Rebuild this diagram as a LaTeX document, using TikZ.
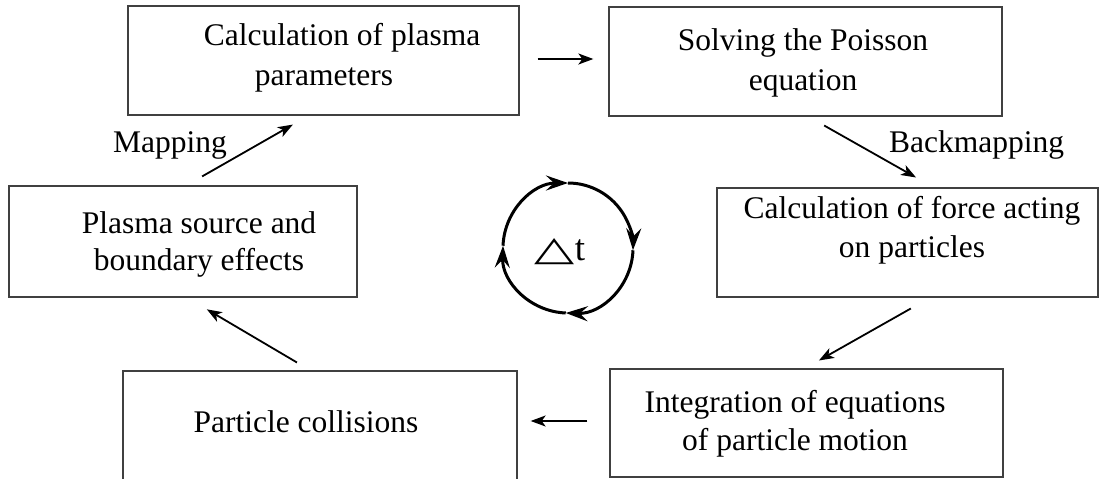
\documentclass[tikz,border=0pt]{standalone}
\usepackage{fontspec}
\setmainfont{Liberation Serif}
\newfontfamily\symfont{DejaVu Sans}
\usetikzlibrary{arrows.meta,calc}
\begin{document}
\begin{tikzpicture}[x=1pt,y=1pt,
  box/.style={draw=black!75, line width=1.3pt, rectangle, inner sep=0pt},
  lbl/.style={inner sep=0pt, align=center, font=\fontsize{31.5}{40}\selectfont},
  arr/.style={line width=1.8pt, -{Stealth[length=15pt,width=11pt,inset=4pt]}},
  cyc/.style={line width=3pt, -{Stealth[length=22pt,width=15pt,inset=8pt]}}]
\clip (0,0) rectangle (1108,-479);
\fill[white] (0,0) rectangle (1108,-479);
% boxes
\node[box, minimum width=391pt, minimum height=109pt] (b1) at (323.5,-60.5) {};
\node[box, minimum width=393pt, minimum height=109pt] (b2) at (805.5,-61.5) {};
\node[box, minimum width=348pt, minimum height=111pt] (b3) at (183,-241.5) {};
\node[box, minimum width=381pt, minimum height=109pt] (b4) at (907.5,-242.5) {};
\node[box, minimum width=394pt, minimum height=116pt] (b5) at (320,-429) {};
\node[box, minimum width=393pt, minimum height=108pt] (b6) at (806.5,-423) {};
% texts
\node[lbl] (t1) at (342,-58) {Calculation of plasma\\parameters\hspace*{36pt}};
\node[lbl] (t2) at (803,-63) {Solving the Poisson\\equation};
\node[lbl, font=\fontsize{31.5}{37}\selectfont] (t3) at (199,-244.5) {Plasma source and\\boundary effects};
\node[lbl, font=\fontsize{31.5}{39}\selectfont] (t4) at (912,-230.5) {Calculation of force acting\\on particles};
\node[lbl, font=\fontsize{31.5}{38}\selectfont] (t6) at (795,-424) {Integration of equations\\of particle motion};
\node[lbl, anchor=base] (t5) at (306,-432) {Particle collisions};
\node[lbl, anchor=base] (map) at (170,-152) {Mapping};
\node[lbl, anchor=base west] (bmap) at (889,-152) {Backmapping};
% connectors
\draw[arr, shorten <=18pt, shorten >=15pt] ([yshift=1.5pt]b1.east) -- ([yshift=1.5pt]b1.east -| b2.west);
\draw[arr, shorten <=18pt, shorten >=20pt] ([xshift=3pt]b2.south) -- ([xshift=26pt]b4.north);
\draw[arr, shorten <=22pt, shorten >=16pt] ([xshift=22.5pt]b4.south) -- ([xshift=-1.5pt]b6.north);
\draw[arr, shorten <=22pt, shorten >=13pt] ([yshift=2pt]b6.west) -- ([yshift=2pt]b6.west -| b5.east);
\draw[arr, shorten <=15.5pt, shorten >=23pt] ([xshift=-9.7pt]b5.north) -- ([xshift=4pt]b3.south);
\draw[arr, shorten <=18pt, shorten >=18pt] ([xshift=3.5pt]b3.north) -- ([xshift=-15pt]b1.south);
% cycle
\coordinate (c) at (568,-248);
\node[inner sep=0pt, anchor=base] (dt) at (560,-260) {\scalebox{1.45}[0.95]{\symfont\fontsize{36}{36}\selectfont △}\fontsize{37}{37}\selectfont t};
\draw[cyc] ([shift={(178:65)}]c) arc (178:90:65);
\draw[cyc] ([shift={(90:65)}]c) arc (90:-2:65);
\draw[cyc] ([shift={(-2:65)}]c) arc (-2:-92:65);
\draw[cyc] ([shift={(-92:65)}]c) arc (-92:-182:65);
\end{tikzpicture}
\end{document}
